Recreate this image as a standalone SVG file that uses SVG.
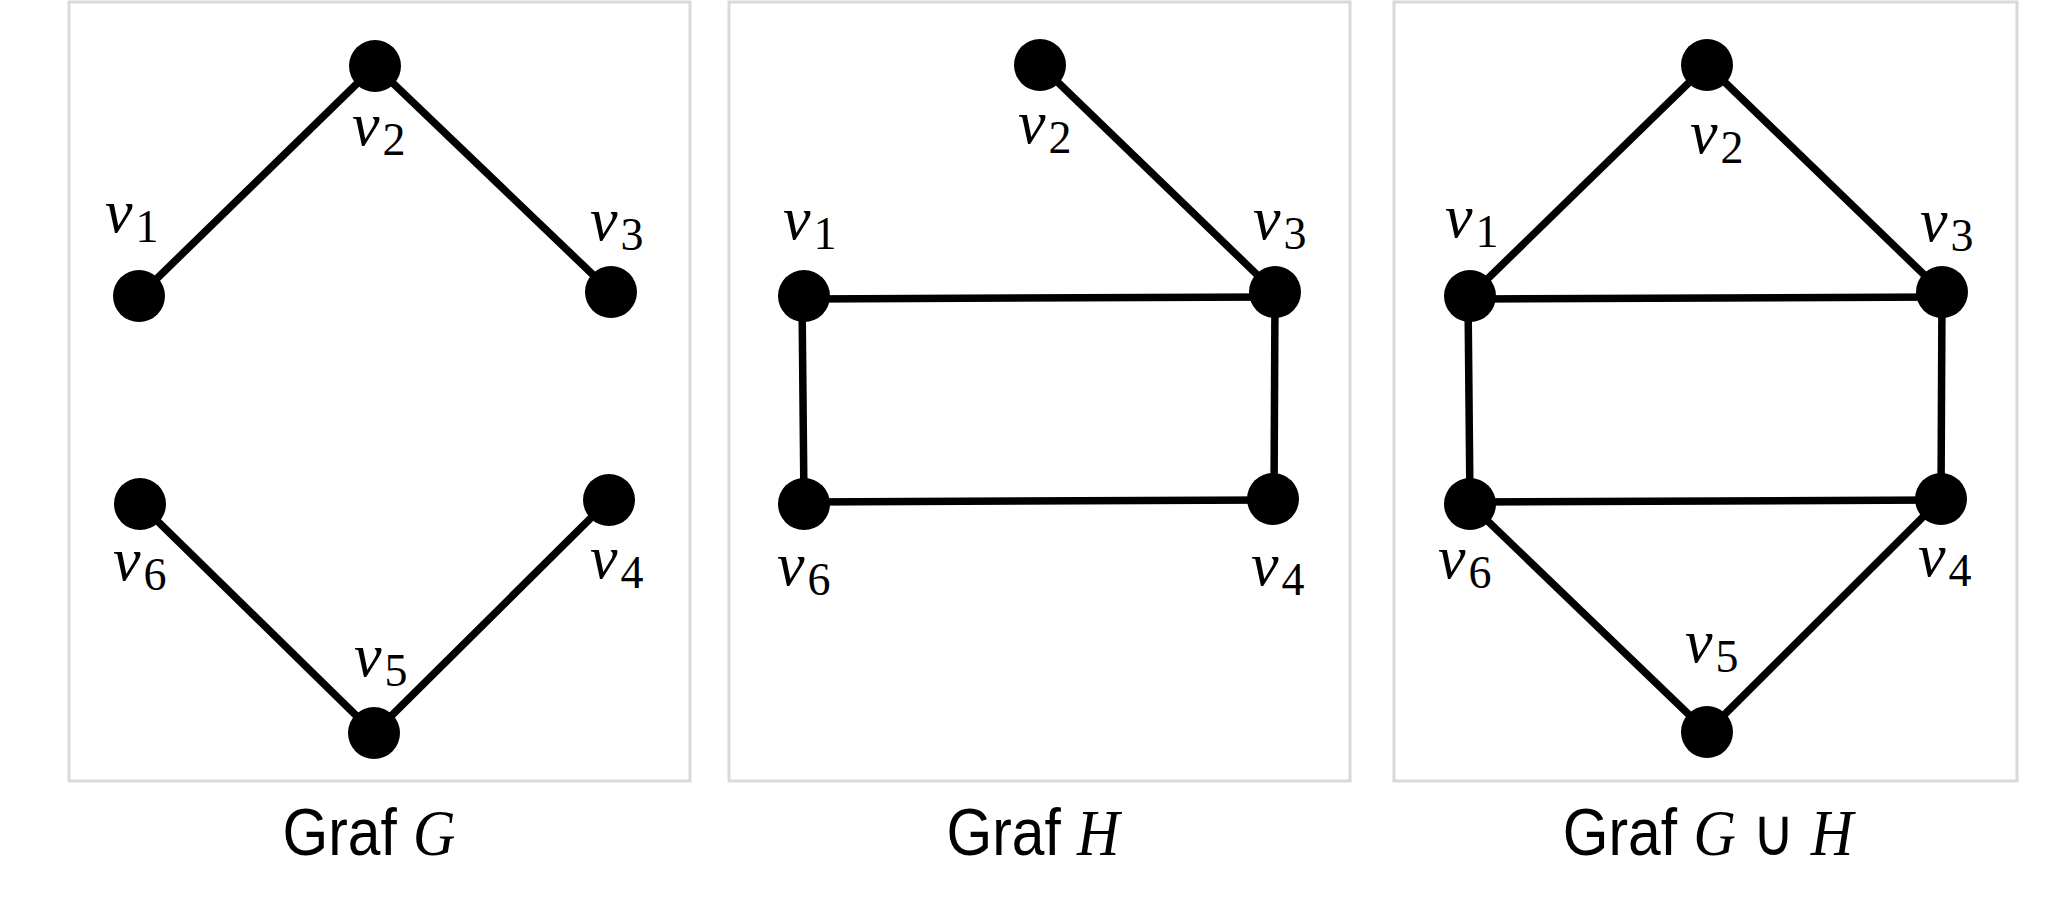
<svg xmlns="http://www.w3.org/2000/svg" width="2048" height="902" viewBox="0 0 2048 902">
<style>
.panel{fill:#fff;stroke:#d9d9d9;stroke-width:3}
.edge{stroke:#000;stroke-width:7.5;fill:none}
.node{fill:#000}
.lbl{font-family:"Liberation Serif",serif;font-size:62px;fill:#000}
.lbl .v{font-style:italic}
.lbl .s{font-size:46px}
.title{font-family:"Liberation Sans Narrow","Liberation Sans",sans-serif;font-size:66px;fill:#000}
.title .m{font-family:"Liberation Serif",serif;font-style:italic}
</style>
<rect width="2048" height="902" fill="#fff"/>
<g id="panels">
<rect class="panel" x="69" y="2" width="621" height="779"/>
<rect class="panel" x="729" y="2" width="621" height="779"/>
<rect class="panel" x="1394" y="2" width="623" height="779"/>
</g>
<g id="connectors">
<line class="edge" x1="139" y1="296" x2="375" y2="66"/>
<line class="edge" x1="375" y1="66" x2="611" y2="292"/>
<line class="edge" x1="140" y1="504" x2="374" y2="733"/>
<line class="edge" x1="374" y1="733" x2="609" y2="500"/>
<line class="edge" x1="1040" y1="65" x2="1275" y2="292"/>
<line class="edge" x1="804" y1="299" x2="1275" y2="297"/>
<line class="edge" x1="802" y1="296" x2="804" y2="504"/>
<line class="edge" x1="1275" y1="292" x2="1274" y2="499"/>
<line class="edge" x1="804" y1="502" x2="1273" y2="500"/>
<line class="edge" x1="1470" y1="296" x2="1707" y2="65"/>
<line class="edge" x1="1707" y1="65" x2="1942" y2="292"/>
<line class="edge" x1="1470" y1="299" x2="1942" y2="297"/>
<line class="edge" x1="1468" y1="296" x2="1470" y2="504"/>
<line class="edge" x1="1942" y1="292" x2="1941" y2="499"/>
<line class="edge" x1="1470" y1="502" x2="1941" y2="500"/>
<line class="edge" x1="1470" y1="504" x2="1707" y2="732"/>
<line class="edge" x1="1707" y1="732" x2="1941" y2="499"/>
</g>
<g id="graphG">
<g id="G-v1"><circle class="node" cx="139" cy="296" r="26"/><text class="lbl" x="105" y="232"><tspan class="v">v</tspan><tspan class="s" dx="3" dy="10">1</tspan></text></g>
<g id="G-v2"><circle class="node" cx="375" cy="66" r="26"/><text class="lbl" x="352" y="145"><tspan class="v">v</tspan><tspan class="s" dx="3" dy="10">2</tspan></text></g>
<g id="G-v3"><circle class="node" cx="611" cy="292" r="26"/><text class="lbl" x="590" y="240"><tspan class="v">v</tspan><tspan class="s" dx="3" dy="10">3</tspan></text></g>
<g id="G-v4"><circle class="node" cx="609" cy="500" r="26"/><text class="lbl" x="590" y="578"><tspan class="v">v</tspan><tspan class="s" dx="3" dy="10">4</tspan></text></g>
<g id="G-v5"><circle class="node" cx="374" cy="733" r="26"/><text class="lbl" x="354" y="676"><tspan class="v">v</tspan><tspan class="s" dx="3" dy="10">5</tspan></text></g>
<g id="G-v6"><circle class="node" cx="140" cy="504" r="26"/><text class="lbl" x="113" y="580"><tspan class="v">v</tspan><tspan class="s" dx="3" dy="10">6</tspan></text></g>
<text id="G-title" class="title" transform="translate(369,855) scale(0.89,1)" text-anchor="middle">Graf <tspan class="m">G</tspan></text>
</g>
<g id="graphH">
<g id="H-v1"><circle class="node" cx="804" cy="296" r="26"/><text class="lbl" x="783" y="239"><tspan class="v">v</tspan><tspan class="s" dx="3" dy="10">1</tspan></text></g>
<g id="H-v2"><circle class="node" cx="1040" cy="65" r="26"/><text class="lbl" x="1018" y="143"><tspan class="v">v</tspan><tspan class="s" dx="3" dy="10">2</tspan></text></g>
<g id="H-v3"><circle class="node" cx="1275" cy="292" r="26"/><text class="lbl" x="1253" y="239"><tspan class="v">v</tspan><tspan class="s" dx="3" dy="10">3</tspan></text></g>
<g id="H-v4"><circle class="node" cx="1273" cy="499" r="26"/><text class="lbl" x="1251" y="585"><tspan class="v">v</tspan><tspan class="s" dx="3" dy="10">4</tspan></text></g>
<g id="H-v6"><circle class="node" cx="804" cy="504" r="26"/><text class="lbl" x="777" y="585"><tspan class="v">v</tspan><tspan class="s" dx="3" dy="10">6</tspan></text></g>
<text id="H-title" class="title" transform="translate(1033,855) scale(0.89,1)" text-anchor="middle">Graf <tspan class="m">H</tspan></text>
</g>
<g id="graphGH">
<g id="GH-v1"><circle class="node" cx="1470" cy="296" r="26"/><text class="lbl" x="1445" y="237"><tspan class="v">v</tspan><tspan class="s" dx="3" dy="10">1</tspan></text></g>
<g id="GH-v2"><circle class="node" cx="1707" cy="65" r="26"/><text class="lbl" x="1690" y="153"><tspan class="v">v</tspan><tspan class="s" dx="3" dy="10">2</tspan></text></g>
<g id="GH-v3"><circle class="node" cx="1942" cy="292" r="26"/><text class="lbl" x="1920" y="241"><tspan class="v">v</tspan><tspan class="s" dx="3" dy="10">3</tspan></text></g>
<g id="GH-v4"><circle class="node" cx="1941" cy="499" r="26"/><text class="lbl" x="1918" y="576"><tspan class="v">v</tspan><tspan class="s" dx="3" dy="10">4</tspan></text></g>
<g id="GH-v5"><circle class="node" cx="1707" cy="732" r="26"/><text class="lbl" x="1685" y="662"><tspan class="v">v</tspan><tspan class="s" dx="3" dy="10">5</tspan></text></g>
<g id="GH-v6"><circle class="node" cx="1470" cy="504" r="26"/><text class="lbl" x="1438" y="578"><tspan class="v">v</tspan><tspan class="s" dx="3" dy="10">6</tspan></text></g>
<text id="GH-title" class="title" transform="translate(1708,855) scale(0.89,1)" text-anchor="middle">Graf <tspan class="m">G</tspan> ∪ <tspan class="m">H</tspan></text>
</g>
</svg>
